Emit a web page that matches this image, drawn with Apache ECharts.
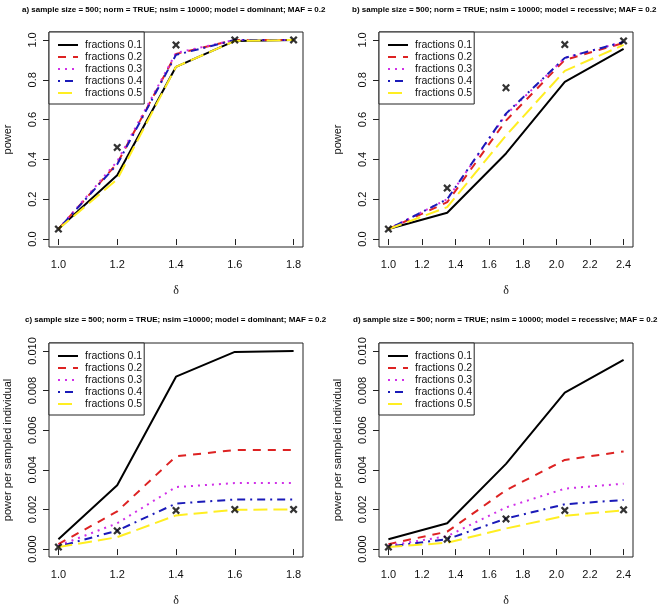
<!DOCTYPE html>
<html>
<head>
<meta charset="utf-8">
<script src="https://cdn.jsdelivr.net/npm/echarts@6/dist/echarts.min.js"></script>
<style>html,body{margin:0;padding:0;background:#fff}#c{width:660px;height:608px}</style>
</head>
<body>
<div id="c"></div>
<script>
// ---- data ----
const deltaDominant = [1.0, 1.2, 1.4, 1.6, 1.8];
const deltaRecessive = [1.0, 1.35, 1.7, 2.05, 2.4];
const fractionNames = ['fractions 0.1', 'fractions 0.2', 'fractions 0.3', 'fractions 0.4', 'fractions 0.5'];

// a) power, dominant
const powDom01 = [0.05, 0.32, 0.865, 0.995, 1.0];
const powDom02 = [0.05, 0.38, 0.93, 1.0, 1.0];
const powDom03 = [0.05, 0.39, 0.935, 1.0, 1.0];
const powDom04 = [0.05, 0.375, 0.925, 1.0, 1.0];
const powDom05 = [0.05, 0.30, 0.865, 0.995, 1.0];
const powDomX  = [0.05, 0.46, 0.975, 1.0, 1.0];

// b) power, recessive
const powRec01 = [0.05, 0.132, 0.43, 0.79, 0.955];
const powRec02 = [0.05, 0.185, 0.595, 0.90, 0.985];
const powRec03 = [0.05, 0.20, 0.625, 0.91, 0.99];
const powRec04 = [0.05, 0.20, 0.63, 0.91, 0.99];
const powRec05 = [0.05, 0.16, 0.52, 0.845, 0.975];
const powRecX  = [0.05, 0.256, 0.76, 0.977, 0.995];

// c) power per sampled individual, dominant
const ppsDom01 = [0.0005, 0.00322, 0.0087, 0.00995, 0.0100];
const ppsDom02 = [0.00025, 0.0019, 0.00468, 0.0050, 0.0050];
const ppsDom03 = [0.00017, 0.0013, 0.00313, 0.00333, 0.00333];
const ppsDom04 = [0.000125, 0.00093, 0.0023, 0.0025, 0.0025];
const ppsDom05 = [0.0001, 0.0006, 0.0017, 0.00198, 0.002];
const ppsDomX  = [0.0001, 0.00092, 0.00195, 0.002, 0.002];

// d) power per sampled individual, recessive
const ppsRec01 = [0.0005, 0.0013, 0.0043, 0.0079, 0.00955];
const ppsRec02 = [0.00025, 0.00088, 0.00297, 0.0045, 0.00493];
const ppsRec03 = [0.00017, 0.00065, 0.0021, 0.00305, 0.0033];
const ppsRec04 = [0.000125, 0.0005, 0.00154, 0.00226, 0.00248];
const ppsRec05 = [0.0001, 0.00032, 0.00104, 0.00168, 0.00196];
const ppsRecX  = [0.0001, 0.0005, 0.00152, 0.00195, 0.00198];

const xTicksDominant = [1.0, 1.2, 1.4, 1.6, 1.8];
const xTicksRecessive = [1.0, 1.2, 1.4, 1.6, 1.8, 2.0, 2.2, 2.4];
const yTicksPower = [0.0, 0.2, 0.4, 0.6, 0.8, 1.0];
const yTicksPps = [0.000, 0.002, 0.004, 0.006, 0.008, 0.010];

const titles = [
  'a) sample size = 500; norm = TRUE; nsim = 10000; model = dominant; MAF = 0.2',
  'b) sample size = 500; norm = TRUE; nsim = 10000; model = recessive; MAF = 0.2',
  'c) sample size = 500; norm = TRUE; nsim =10000; model = dominant; MAF = 0.2',
  'd) sample size = 500; norm = TRUE; nsim = 10000; model = recessive; MAF = 0.2'
];
const yNames = ['power', 'power', 'power per sampled individual', 'power per sampled individual'];

// ---- styles ----
const lineStyles = [
  {color: '#000000', type: 'solid'},
  {color: '#dd2222', type: [8, 7]},
  {color: '#d030e8', type: [2, 5]},
  {color: '#1a1ab8', type: [2, 5, 8, 5]},
  {color: '#ffee22', type: [14, 6]}
];
const xSym = 'path://M0,2 L2,0 L5,3 L8,0 L10,2 L7,5 L10,8 L8,10 L5,7 L2,10 L0,8 L3,5 Z';

const panels = [
  {left: 49, top: 32, tl: 22, xs: deltaDominant, xticks: xTicksDominant, xr: [0.968, 1.832], yr: [-0.04, 1.04], yticks: yTicksPower, dec: 1,
   lines: [powDom01, powDom02, powDom03, powDom04, powDom05], marks: powDomX},
  {left: 379, top: 32, tl: 352, xs: deltaRecessive, xticks: xTicksRecessive, xr: [0.944, 2.456], yr: [-0.04, 1.04], yticks: yTicksPower, dec: 1,
   lines: [powRec01, powRec02, powRec03, powRec04, powRec05], marks: powRecX},
  {left: 49, top: 343, tl: 25, xs: deltaDominant, xticks: xTicksDominant, xr: [0.968, 1.832], yr: [-0.0004, 0.0104], yticks: yTicksPps, dec: 3,
   lines: [ppsDom01, ppsDom02, ppsDom03, ppsDom04, ppsDom05], marks: ppsDomX},
  {left: 379, top: 343, tl: 353, xs: deltaRecessive, xticks: xTicksRecessive, xr: [0.944, 2.456], yr: [-0.0004, 0.0104], yticks: yTicksPps, dec: 3,
   lines: [ppsRec01, ppsRec02, ppsRec03, ppsRec04, ppsRec05], marks: ppsRecX}
];
const W = 254, H = 215;
const sans = 'Liberation Sans, Arial, sans-serif';

const grid = [], xAxis = [], yAxis = [], series = [], legend = [], title = [];
panels.forEach((p, i) => {
  grid.push({left: p.left, top: p.top, width: W, height: H, show: true, borderColor: '#222', borderWidth: 1, backgroundColor: 'transparent'});
  xAxis.push({
    type: 'value', gridIndex: i, min: p.xr[0], max: p.xr[1],
    axisLine: {show: false},
    axisTick: {show: true, length: 6, customValues: p.xticks, lineStyle: {color: '#222'}},
    axisLabel: {customValues: p.xticks, formatter: v => v.toFixed(1), fontFamily: sans, fontSize: 11, color: '#111', margin: 12},
    splitLine: {show: false},
    name: 'δ', nameLocation: 'middle', nameGap: 38,
    nameTextStyle: {fontFamily: 'Liberation Serif, DejaVu Serif, serif', fontSize: 12, color: '#111'}
  });
  yAxis.push({
    type: 'value', gridIndex: i, min: p.yr[0], max: p.yr[1],
    axisLine: {show: false},
    axisTick: {show: true, length: 6, customValues: p.yticks, lineStyle: {color: '#222'}},
    axisLabel: {customValues: p.yticks, formatter: v => v.toFixed(p.dec), rotate: 90, fontFamily: sans, fontSize: 11, color: '#111', margin: 11},
    splitLine: {show: false},
    name: yNames[i], nameLocation: 'middle', nameGap: 36,
    nameTextStyle: {fontFamily: sans, fontSize: 11, color: '#111'}
  });
  p.lines.forEach((vals, k) => {
    series.push({
      type: 'line', name: fractionNames[k], xAxisIndex: i, yAxisIndex: i,
      data: p.xs.map((x, j) => [x, vals[j]]),
      symbol: 'none', silent: true, animation: false,
      lineStyle: {width: 2, color: lineStyles[k].color, type: lineStyles[k].type},
      itemStyle: {color: lineStyles[k].color},
      z: 2 + k
    });
  });
  series.push({
    type: 'scatter', name: 'markers', xAxisIndex: i, yAxisIndex: i,
    data: p.xs.map((x, j) => [x, p.marks[j]]),
    symbol: xSym, symbolSize: 8, itemStyle: {color: '#000'}, silent: true, animation: false, z: 10
  });
  legend.push({
    data: fractionNames, left: p.left, top: p.top, orient: 'vertical',
    itemWidth: 20, itemHeight: 12, itemGap: 0,
    padding: [7, 2, 5, 8],
    borderColor: '#222', borderWidth: 1, backgroundColor: '#fff',
    itemStyle: {color: 'rgba(0,0,0,0)', opacity: 0, borderWidth: 0},
    textStyle: {fontFamily: sans, fontSize: 10.5, lineHeight: 12, color: '#111', padding: [0, 0, 0, 2]},
    selectedMode: false, z: 20
  });
  title.push({
    text: titles[i], left: p.tl, top: (i < 2 ? 6 : 316), padding: 0,
    textStyle: {fontFamily: sans, fontWeight: 'bold', fontSize: 8, color: '#000'}
  });
});

const chart = echarts.init(document.getElementById('c'), null, {renderer: 'canvas'});
chart.setOption({animation: false, backgroundColor: '#fff', grid, xAxis, yAxis, series, legend, title});
</script>
</body>
</html>
